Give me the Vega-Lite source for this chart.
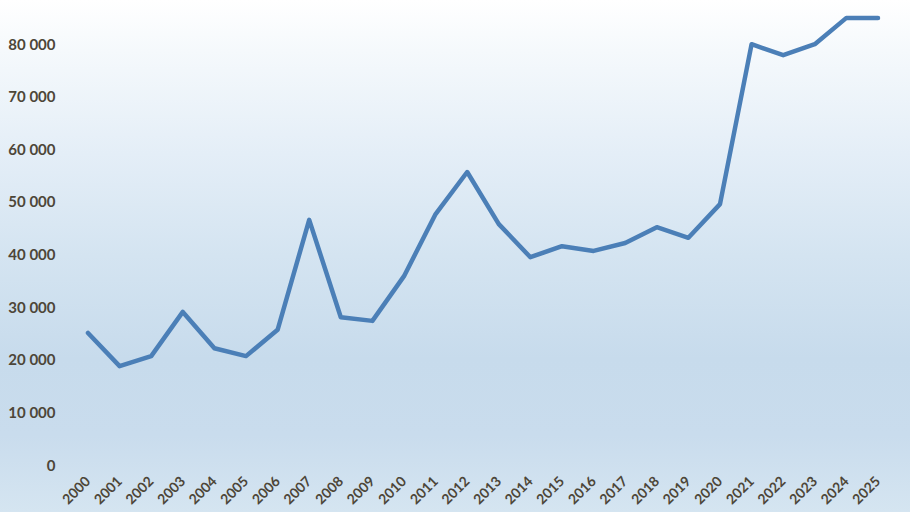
{
  "$schema": "https://vega.github.io/schema/vega-lite/v6.json",
  "width": 910,
  "height": 512,
  "padding": 0,
  "autosize": {"type": "none"},
  "background": "#ffffff",
  "config": {
    "view": {
      "stroke": null,
      "fill": {
        "gradient": "linear",
        "x1": 0, "y1": 0, "x2": 0, "y2": 1,
        "stops": [
          {"offset": 0, "color": "#ffffff"},
          {"offset": 0.1, "color": "#f5f9fc"},
          {"offset": 0.3, "color": "#e4eef7"},
          {"offset": 0.5, "color": "#d4e4f1"},
          {"offset": 0.7, "color": "#c7dbec"},
          {"offset": 0.85, "color": "#c9dced"},
          {"offset": 1, "color": "#d5e5f1"}
        ]
      }
    },
    "axis": {
      "labelFont": "Lato",
      "labelFontSize": 15,
      "labelFontWeight": "bold",
      "labelColor": "#4d4638",
      "grid": false,
      "ticks": false,
      "domain": false,
      "title": null
    }
  },
  "data": {
    "values": [
      {"year": "2000", "value": 25100},
      {"year": "2001", "value": 18800},
      {"year": "2002", "value": 20700},
      {"year": "2003", "value": 29100},
      {"year": "2004", "value": 22200},
      {"year": "2005", "value": 20700},
      {"year": "2006", "value": 25700},
      {"year": "2007", "value": 46600},
      {"year": "2008", "value": 28100},
      {"year": "2009", "value": 27400},
      {"year": "2010", "value": 35900},
      {"year": "2011", "value": 47700},
      {"year": "2012", "value": 55700},
      {"year": "2013", "value": 45800},
      {"year": "2014", "value": 39500},
      {"year": "2015", "value": 41600},
      {"year": "2016", "value": 40700},
      {"year": "2017", "value": 42200},
      {"year": "2018", "value": 45200},
      {"year": "2019", "value": 43200},
      {"year": "2020", "value": 49600},
      {"year": "2021", "value": 80000},
      {"year": "2022", "value": 77900},
      {"year": "2023", "value": 80000},
      {"year": "2024", "value": 85000},
      {"year": "2025", "value": 85000}
    ]
  },
  "mark": {"type": "line", "color": "#4b7fb7", "strokeWidth": 4.5, "strokeJoin": "round", "strokeCap": "round"},
  "encoding": {
    "x": {
      "field": "year",
      "type": "ordinal",
      "scale": {"type": "point", "padding": 0, "range": [88, 878]},
      "axis": {
        "orient": "bottom",
        "offset": -47,
        "labelAngle": -45,
        "labelAlign": "right",
        "labelBaseline": "middle",
        "labelFontSize": 14,
        "labelPadding": 14
      }
    },
    "y": {
      "field": "value",
      "type": "quantitative",
      "scale": {"domain": [-8935, 88400], "nice": false, "zero": false},
      "axis": {
        "orient": "left",
        "offset": -72,
        "values": [0, 10000, 20000, 30000, 40000, 50000, 60000, 70000, 80000],
        "labelExpr": "replace(format(datum.value, ','), ',', ' ')",
        "labelPadding": 17
      }
    }
  }
}
